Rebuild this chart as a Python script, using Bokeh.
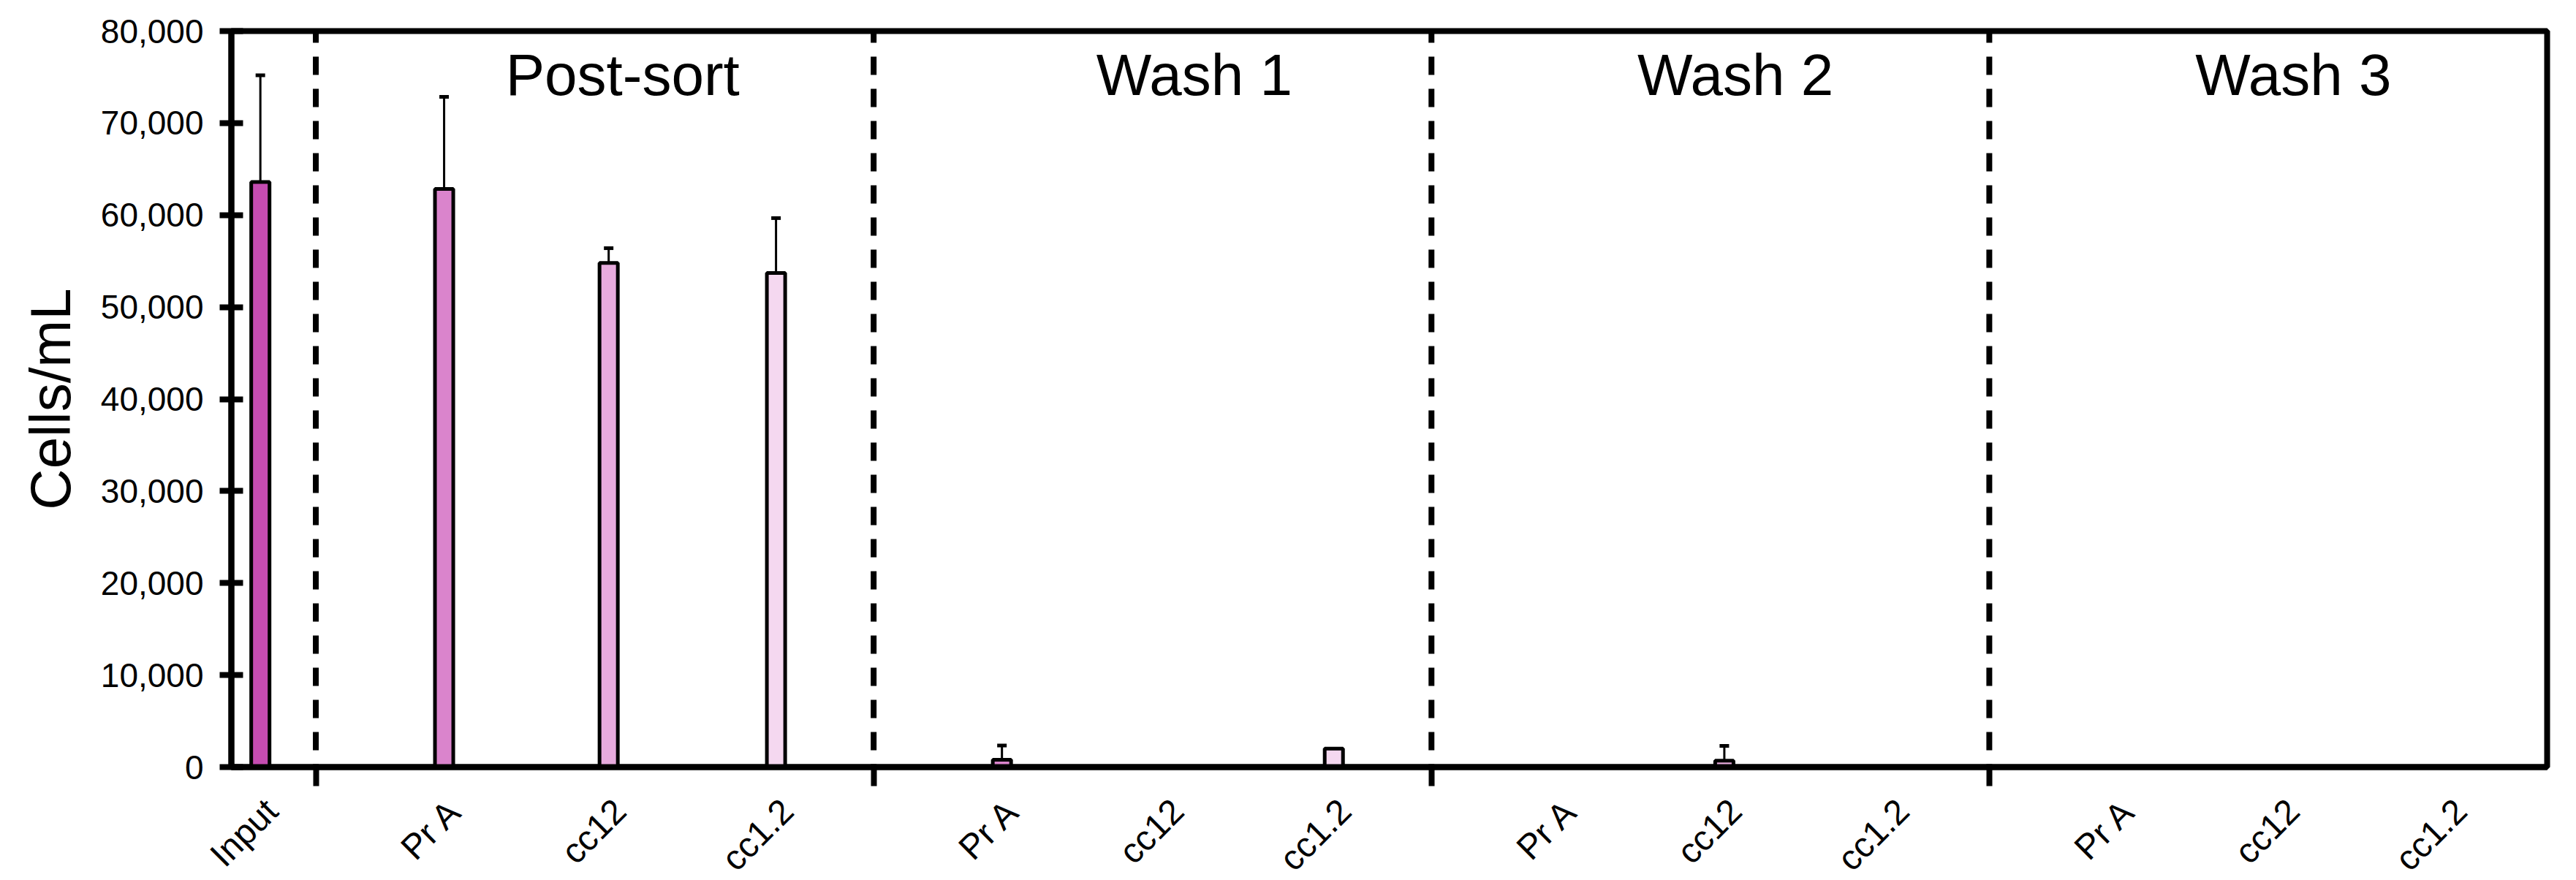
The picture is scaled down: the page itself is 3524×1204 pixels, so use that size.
import math
from bokeh.plotting import figure
from bokeh.models import (ColumnDataSource, FixedTicker, NumeralTickFormatter,
                          Whisker, TeeHead, Range1d, Title)
from bokeh.core.properties import value
from bokeh.embed import file_html
from bokeh.resources import INLINE

# ---------------- data ----------------
input_label = "Input"
input_value = 63600
input_error = 11600

groups = ["Post-sort", "Wash 1", "Wash 2", "Wash 3"]
conditions = ["Pr A", "cc12", "cc1.2"]

postsort_values = [62850, 54800, 53700]
postsort_errors = [10000, 1600, 5970]
wash1_values = [800, 0, 2000]
wash1_errors = [1550, 0, 0]
wash2_values = [0, 700, 0]
wash2_errors = [0, 1600, 0]
wash3_values = [0, 0, 0]
wash3_errors = [0, 0, 0]

y_ticks = [0, 10000, 20000, 30000, 40000, 50000, 60000, 70000, 80000]
y_max = 80000
y_title = "Cells/mL"

input_color = "#C54CB1"
condition_colors = ["#DA84CC", "#E7ABDD", "#F5D8F0"]

group_values = [postsort_values, wash1_values, wash2_values, wash3_values]
group_errors = [postsort_errors, wash1_errors, wash2_errors, wash3_errors]

# ---------------- layout (in "group widths") ----------------
INPUT_W = 0.1514          # width of the Input column
INPUT_POS = 0.052         # Input bar position inside its column
GROUP_W = 1.0
SLOTS = [0.23, 0.525, 0.825]
BAR_W = 0.0328
TITLE_POS = [0.55, 0.575, 0.545, 0.545]
LABEL_SHIFT = 0.02
x_end = INPUT_W + len(groups) * GROUP_W

xs = [INPUT_POS]
tops = [input_value]
errs = [input_error]
cols = [input_color]
labels = [input_label]
dividers = []
title_x = []
for k, g in enumerate(groups):
    left = INPUT_W + k * GROUP_W
    dividers.append(left)
    title_x.append(left + TITLE_POS[k])
    for j, c in enumerate(conditions):
        xs.append(left + SLOTS[j])
        tops.append(group_values[k][j])
        errs.append(group_errors[k][j])
        cols.append(condition_colors[j])
        labels.append(c)

src = ColumnDataSource(dict(x=xs, top=tops, color=cols))
wx = [x for x, e in zip(xs, errs) if e > 0]
wu = [t + e for t, e in zip(tops, errs) if e > 0]
wl = [t - e for t, e in zip(tops, errs) if e > 0]
wsrc = ColumnDataSource(dict(x=wx, upper=wu, lower=wl))

label_ticks = [x + LABEL_SHIFT for x in xs]

# ---------------- figure ----------------
p = figure(frame_width=3168, frame_height=1007,
           x_range=Range1d(0, x_end), y_range=Range1d(0, y_max),
           output_backend="svg", toolbar_location=None,
           min_border_left=316, min_border_right=24,
           min_border_top=42, min_border_bottom=136)
p.xgrid.visible = False
p.ygrid.visible = False
p.background_fill_color = "white"
p.border_fill_color = "white"
p.outline_line_color = "black"
p.outline_line_width = 8
p.outline_line_alpha = 1.0

# dividers
p.segment(x0=dividers, y0=[y_max] * len(dividers), x1=dividers, y1=[0] * len(dividers),
          line_color="black", line_width=8, line_dash="25 19", line_dash_offset=9)

# bars
p.vbar(x="x", top="top", width=BAR_W, fill_color="color", line_color="black",
       line_width=5, source=src)

# error bars
w = Whisker(base="x", upper="upper", lower="lower", source=wsrc,
            line_color="black", line_width=3,
            upper_head=TeeHead(size=13, line_width=5, line_color="black"),
            lower_head=TeeHead(size=13, line_width=5, line_color="black"))
p.add_layout(w)

# group titles
p.text(x=title_x, y=[y_max * 0.94] * len(groups), text=groups,
       text_font=value("Liberation Sans"), text_font_size="80px",
       text_align="center", text_baseline="alphabetic", text_color="black")

# y axis title as a side title (shifted up a little, like the original)
p.add_layout(Title(text=y_title, align="center", offset=55, standoff=44,
                   text_font="Liberation Sans", text_font_size="78px",
                   text_font_style="normal", text_color="black"), "left")

# y axis
ya = p.yaxis[0]
ya.ticker = FixedTicker(ticks=y_ticks, minor_ticks=[])
ya.formatter = NumeralTickFormatter(format="0,0")
ya.axis_line_width = 8
ya.axis_line_color = "black"
ya.major_tick_line_width = 8
ya.major_tick_line_color = "black"
ya.major_tick_in = 16
ya.major_tick_out = 16
ya.minor_tick_line_color = None
ya.major_label_text_font = "Liberation Sans"
ya.major_label_text_font_size = "46px"
ya.major_label_text_color = "black"
ya.major_label_standoff = 22

# x axis: labels on (invisible) major ticks, group boundaries as minor ticks
xa = p.xaxis[0]
xa.ticker = FixedTicker(ticks=label_ticks, minor_ticks=dividers)
xa.major_label_overrides = {x: lab for x, lab in zip(label_ticks, labels)}
xa.axis_line_width = 8
xa.axis_line_color = "black"
xa.major_tick_line_color = None
xa.major_tick_in = 0
xa.major_tick_out = 0
xa.minor_tick_line_color = "black"
xa.minor_tick_line_width = 8
xa.minor_tick_in = 0
xa.minor_tick_out = 26
xa.major_label_orientation = math.pi / 4
xa.major_label_text_font = "Liberation Sans"
xa.major_label_text_font_size = "48px"
xa.major_label_text_color = "black"
xa.major_label_standoff = 26

open("out.html", "w").write(file_html(p, INLINE))
